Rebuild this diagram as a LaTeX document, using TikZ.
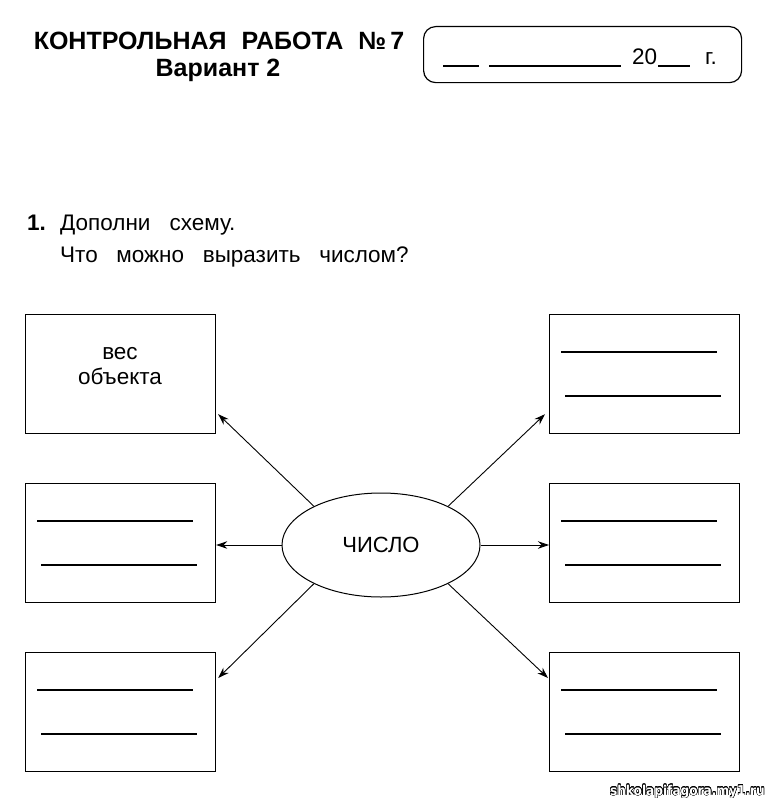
\documentclass[tikz,border=0pt]{standalone}
\usepackage{fontspec}
\setmainfont{Liberation Sans}
\newfontfamily\wmfont{DejaVu Sans Condensed}
\usepackage{contour}
\usetikzlibrary{arrows.meta,shapes.geometric,calc}
\begin{document}
\begin{tikzpicture}[x=1pt,y=-1pt,
  box/.style={draw, line width=1.2pt, minimum width=190pt, minimum height=119pt, inner sep=0pt, anchor=north west},
  wline/.style={line width=1.3pt},
  arr/.style={line width=0.9pt, -{Stealth[length=11pt,width=7.5pt]}},
  txt/.style={font=\fontsize{22.5}{25}\selectfont, inner sep=0pt},
  head/.style={font=\bfseries\fontsize{25}{30}\selectfont, inner sep=0pt, anchor=base},
  task/.style={font=\fontsize{22.5}{26}\selectfont, inner sep=0pt, anchor=base west}
]
\useasboundingbox[fill=white] (0,0) rectangle (768,800);

% header
\node[head] (title) at (219,49) {КОНТРОЛЬНАЯ\hspace{0.6em}РАБОТА\hspace{0.6em}№\,7};
\node[head] (variant) at (218,77) {Вариант 2};

% date box
\node[draw, rounded corners=12pt, line width=1.2pt, minimum width=318pt, minimum height=56pt, inner sep=0pt, anchor=north west] (datebox) at (423,26) {};
\draw[wline] (443,66) -- (479,66);
\draw[wline] (489,66) -- (621,66);
\draw[wline] (658,66) -- (690,66);
\node[task] (twenty) at (632,64) {20};
\node[task] (year) at (705,64) {г.};

% task
\node[task, font=\bfseries\fontsize{22.5}{26}\selectfont] (num) at (27,230) {1.};
\node[task] (q1) at (60,230) {Дополни\hspace{0.85em}схему.};
\node[task] (q2) at (60,262) {Что\hspace{0.83em}можно\hspace{0.83em}выразить\hspace{0.83em}числом?};

% boxes
\node[box] (b1) at (25,314) {};
\node[box] (b2) at (549,314) {};
\node[box] (b3) at (25,483) {};
\node[box] (b4) at (549,483) {};
\node[box] (b5) at (25,652) {};
\node[box] (b6) at (549,652) {};
\node[txt, align=center] (weight) at (120,366) {вес\\объекта};

\foreach \b in {b2,b3,b4,b5,b6}{
  \draw[wline] ([shift={(12pt,-38pt)}]\b.north west) -- ++(156,0);
  \draw[wline] ([shift={(16pt,-82pt)}]\b.north west) -- ++(156,0);
}

% center
\node[ellipse, draw, line width=1pt, minimum width=198pt, minimum height=104pt, inner sep=0pt, font=\fontsize{22}{25}\selectfont] (e) at (381,545) {ЧИСЛО};

\draw[arr] (e.150) -- ([shift={(2pt,20pt)}]b1.south east);
\draw[arr] (e.30) -- ([shift={(-4pt,20pt)}]b2.south west);
\draw[arr] (e.west) -- (e.west -| b3.east);
\draw[arr] (e.east) -- (e.east -| b4.west);
\draw[arr] (e.210) -- ([shift={(2pt,-26pt)}]b5.north east);
\draw[arr] (e.330) -- ([shift={(-1pt,-26pt)}]b6.north west);

% watermark
\node[anchor=base east, inner sep=0pt, font=\wmfont\bfseries\fontsize{13.5}{14}\selectfont] (wm) at (765,795) {\contour{black}{\textcolor{white}{shkolapifagora.my1.ru}}};
\end{tikzpicture}
\end{document}
